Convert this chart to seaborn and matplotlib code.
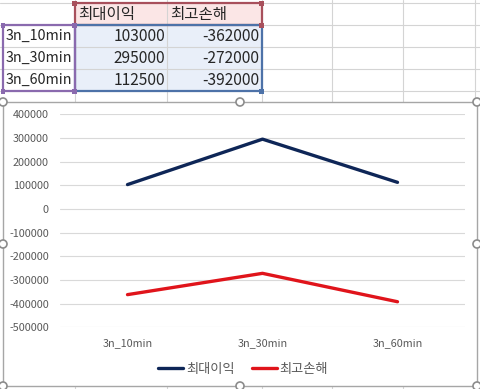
import matplotlib
matplotlib.use("Agg")
import matplotlib.pyplot as plt
import matplotlib.patches as mpatches
from matplotlib.lines import Line2D
import seaborn as sns
import pandas as pd

# %% Data
categories = ["3n_10min", "3n_30min", "3n_60min"]
max_profit = [103000, 295000, 112500]
max_loss = [-362000, -272000, -392000]
series_names = ["최대이익", "최고손해"]
yticks = list(range(-500000, 400001, 100000))

df = pd.DataFrame({"구간": categories, series_names[0]: max_profit, series_names[1]: max_loss})
long_df = df.melt(id_vars="구간", var_name="항목", value_name="값")

# %% Style
sns.set_style("white")
plt.rcParams['font.family'] = ['Noto Sans CJK KR', 'DejaVu Sans']

W, H = 481, 389
fig = plt.figure(figsize=(W / 100, H / 100), dpi=100)

#-- background "sheet" in pixel coordinates
bg = fig.add_axes([0, 0, 1, 1])
bg.set_xlim(0, W)
bg.set_ylim(H, 0)
bg.axis("off")

grid_c = "#D4D4D4"
for x in [75, 167, 262, 332, 403, 475]:
    bg.plot([x, x], [0, H], color=grid_c, lw=0.8, zorder=1)
for y in [3, 25, 47, 69, 91]:
    bg.plot([0, W], [y, y], color=grid_c, lw=0.8, zorder=1)

#-- table selection fills + borders
bg.add_patch(mpatches.Rectangle((75, 3), 187, 22, facecolor="#FBE6E6", edgecolor="none", zorder=0.5))
bg.add_patch(mpatches.Rectangle((75, 25), 187, 66, facecolor="#E9EFF9", edgecolor="none", zorder=0.5))
bg.add_patch(mpatches.Rectangle((75, 3), 187, 22, facecolor="none", edgecolor="#A8505C", lw=1.6, zorder=3))
bg.add_patch(mpatches.Rectangle((75, 25), 187, 66, facecolor="none", edgecolor="#4D72A8", lw=1.6, zorder=3))
bg.add_patch(mpatches.Rectangle((3, 25), 72, 66, facecolor="none", edgecolor="#8A6AAE", lw=1.6, zorder=3))
for (hx, hy, c) in [(75, 3, "#A8505C"), (262, 3, "#A8505C"), (262, 25, "#A8505C"),
                    (3, 25, "#8A6AAE"), (75, 25, "#8A6AAE"), (3, 91, "#8A6AAE"),
                    (75, 91, "#8A6AAE"), (262, 91, "#4D72A8")]:
    bg.add_patch(mpatches.Rectangle((hx - 2.5, hy - 2.5), 5, 5, facecolor=c, edgecolor="none", zorder=4))

#-- table text
cell_fs = 11.2
bg.text(78, 14, series_names[0], fontsize=cell_fs, va="center", ha="left", zorder=5)
bg.text(170, 14, series_names[1], fontsize=cell_fs, va="center", ha="left", zorder=5)
for i, cat in enumerate(categories):
    yc = 36 + 22 * i
    bg.text(6, yc, cat, fontsize=10.3, va="center", ha="left", zorder=5)
    bg.text(165, yc, f"{max_profit[i]}", fontsize=cell_fs, va="center", ha="right", zorder=5)
    bg.text(259, yc, f"{max_loss[i]}", fontsize=cell_fs, va="center", ha="right", zorder=5)

#-- chart frame with handles
bg.add_patch(mpatches.Rectangle((3, 102), 474, 284, facecolor="white", edgecolor="#A6A6A6", lw=1.0, zorder=6))
for (cx, cy) in [(3, 102), (240, 102), (477, 102), (3, 244), (477, 244), (3, 386), (240, 386), (477, 386)]:
    bg.add_patch(mpatches.Circle((cx, cy), 4, facecolor="white", edgecolor="#8C8C8C", lw=1.2, zorder=7))

# %% Chart
left, right, top, bottom = 60, 465, 114.3, 327.3
ax = fig.add_axes([left / W, 1 - bottom / H, (right - left) / W, (bottom - top) / H])
ax.set_facecolor("none")

palette = {series_names[0]: "#0E2657", series_names[1]: "#E0141B"}
sns.lineplot(data=long_df, x="구간", y="값", hue="항목", palette=palette,
             linewidth=2.4, ax=ax, legend=False, sort=False)

ax.set_xlim(-0.5, len(categories) - 0.5)
ax.set_ylim(yticks[0], yticks[-1])
ax.set_yticks(yticks)
ax.set_yticklabels([str(v) for v in yticks])
ax.set_xticks(range(len(categories)))
ax.set_xticklabels(categories)
ax.set_xlabel("")
ax.set_ylabel("")
ax.grid(True, axis="y", color="#D9D9D9", lw=0.8)
ax.grid(False, axis="x")
ax.set_axisbelow(True)
for s in ax.spines.values():
    s.set_visible(False)
ax.tick_params(axis="y", length=0, pad=8, labelsize=7.8, labelcolor="#595959")
ax.tick_params(axis="x", length=0, pad=7.5, labelsize=7.8, labelcolor="#595959")

#-- legend
handles = [Line2D([], [], color=palette[n], lw=2.4) for n in series_names]
fig.legend(handles, series_names, loc="center", bbox_to_anchor=(243 / W, 1 - 369 / H),
           ncol=2, frameon=False, fontsize=9.5, handlelength=1.9, handletextpad=0.2,
           columnspacing=1.3, labelcolor="#595959")

fig.savefig("out.png", dpi=100)
plt.close(fig)
